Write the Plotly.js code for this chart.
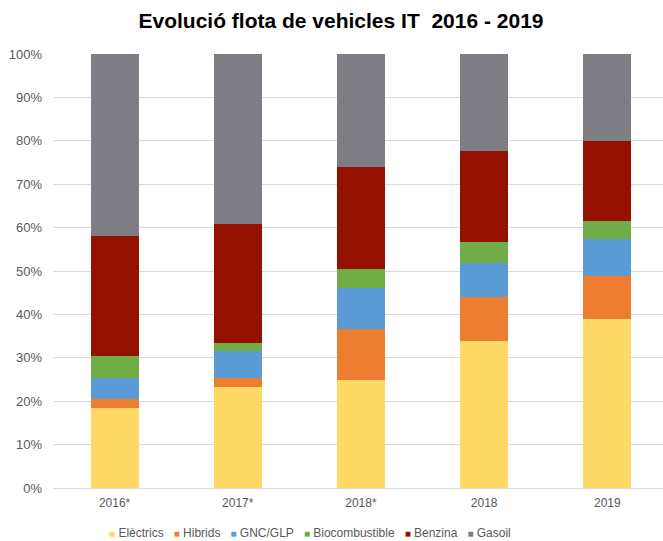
<!DOCTYPE html>
<html>
<head>
<meta charset="utf-8">
<script src="https://cdn.plot.ly/plotly-3.0.1.min.js"></script>
<style>html,body{margin:0;padding:0;background:#fff;}#chart{width:663px;height:541px;}</style>
</head>
<body>
<div id="chart"></div>
<script>
const categories = ["2016*", "2017*", "2018*", "2018", "2019"];
const seriesNames = ["Elèctrics", "Hibrids", "GNC/GLP", "Biocombustible", "Benzina", "Gasoil"];
const electrics = [0.184, 0.232, 0.249, 0.339, 0.389];
const hibrids = [0.020, 0.021, 0.117, 0.100, 0.100];
const gnc = [0.050, 0.063, 0.094, 0.079, 0.084];
const bio = [0.051, 0.017, 0.044, 0.048, 0.043];
const benzina = [0.276, 0.275, 0.236, 0.210, 0.184];
const gasoil = [0.419, 0.392, 0.260, 0.224, 0.200];
const colors = ["#FFD966", "#ED7D31", "#5B9BD5", "#70AD47", "#941100", "#7E7D84"];
const yTicks = [0, 0.1, 0.2, 0.3, 0.4, 0.5, 0.6, 0.7, 0.8, 0.9, 1.0];
const yTickLabels = ["0%", "10%", "20%", "30%", "40%", "50%", "60%", "70%", "80%", "90%", "100%"];

const values = [electrics, hibrids, gnc, bio, benzina, gasoil];
const traces = values.map((v, i) => ({
  type: "bar",
  name: seriesNames[i],
  x: categories,
  y: v,
  marker: {color: colors[i], line: {width: 0}},
  width: 0.39,
  showlegend: false,
  hoverinfo: "skip"
}));

const legendText = seriesNames.map((n, i) =>
  '<span style="color:' + colors[i] + ';font-size:10px">■</span> ' + n
).join('&nbsp;&nbsp;&nbsp;');

const layout = {
  width: 663, height: 541,
  margin: {l: 53, r: 0, t: 54, b: 53, pad: 0},
  paper_bgcolor: "#ffffff", plot_bgcolor: "#ffffff",
  barmode: "stack",
  font: {family: "Liberation Sans, Arial, sans-serif", color: "#595959", size: 12},
  title: {
    text: "<b>Evolució flota de vehicles IT&nbsp; 2016 - 2019</b>",
    font: {family: "Liberation Sans, Arial, sans-serif", size: 21, color: "#000000"},
    x: 341/663, xanchor: "center", xref: "container",
    y: 1 - 21/541, yanchor: "middle", yref: "container"
  },
  xaxis: {
    type: "category",
    range: [-0.5, 4.452],
    showgrid: false, zeroline: false, showline: false,
    ticks: "", tickfont: {size: 12, color: "#595959"},
    ticklabelstandoff: 6, fixedrange: true
  },
  yaxis: {
    range: [0, 1.0],
    tickvals: yTicks, ticktext: yTickLabels,
    showgrid: true, gridcolor: "#D9D9D9", gridwidth: 1,
    zeroline: true, zerolinecolor: "#D9D9D9", zerolinewidth: 1,
    showline: false, ticks: "",
    tickfont: {size: 13, color: "#595959"},
    ticklabelstandoff: 10, fixedrange: true
  },
  annotations: [{
    text: legendText,
    xref: "paper", yref: "paper",
    x: (310 - 53) / 610, y: -(533 - 488) / 434,
    xanchor: "center", yanchor: "middle",
    showarrow: false,
    font: {size: 12, color: "#595959", family: "Liberation Sans, Arial, sans-serif"}
  }]
};

Plotly.newPlot("chart", traces, layout, {displayModeBar: false, staticPlot: true});
</script>
</body>
</html>
